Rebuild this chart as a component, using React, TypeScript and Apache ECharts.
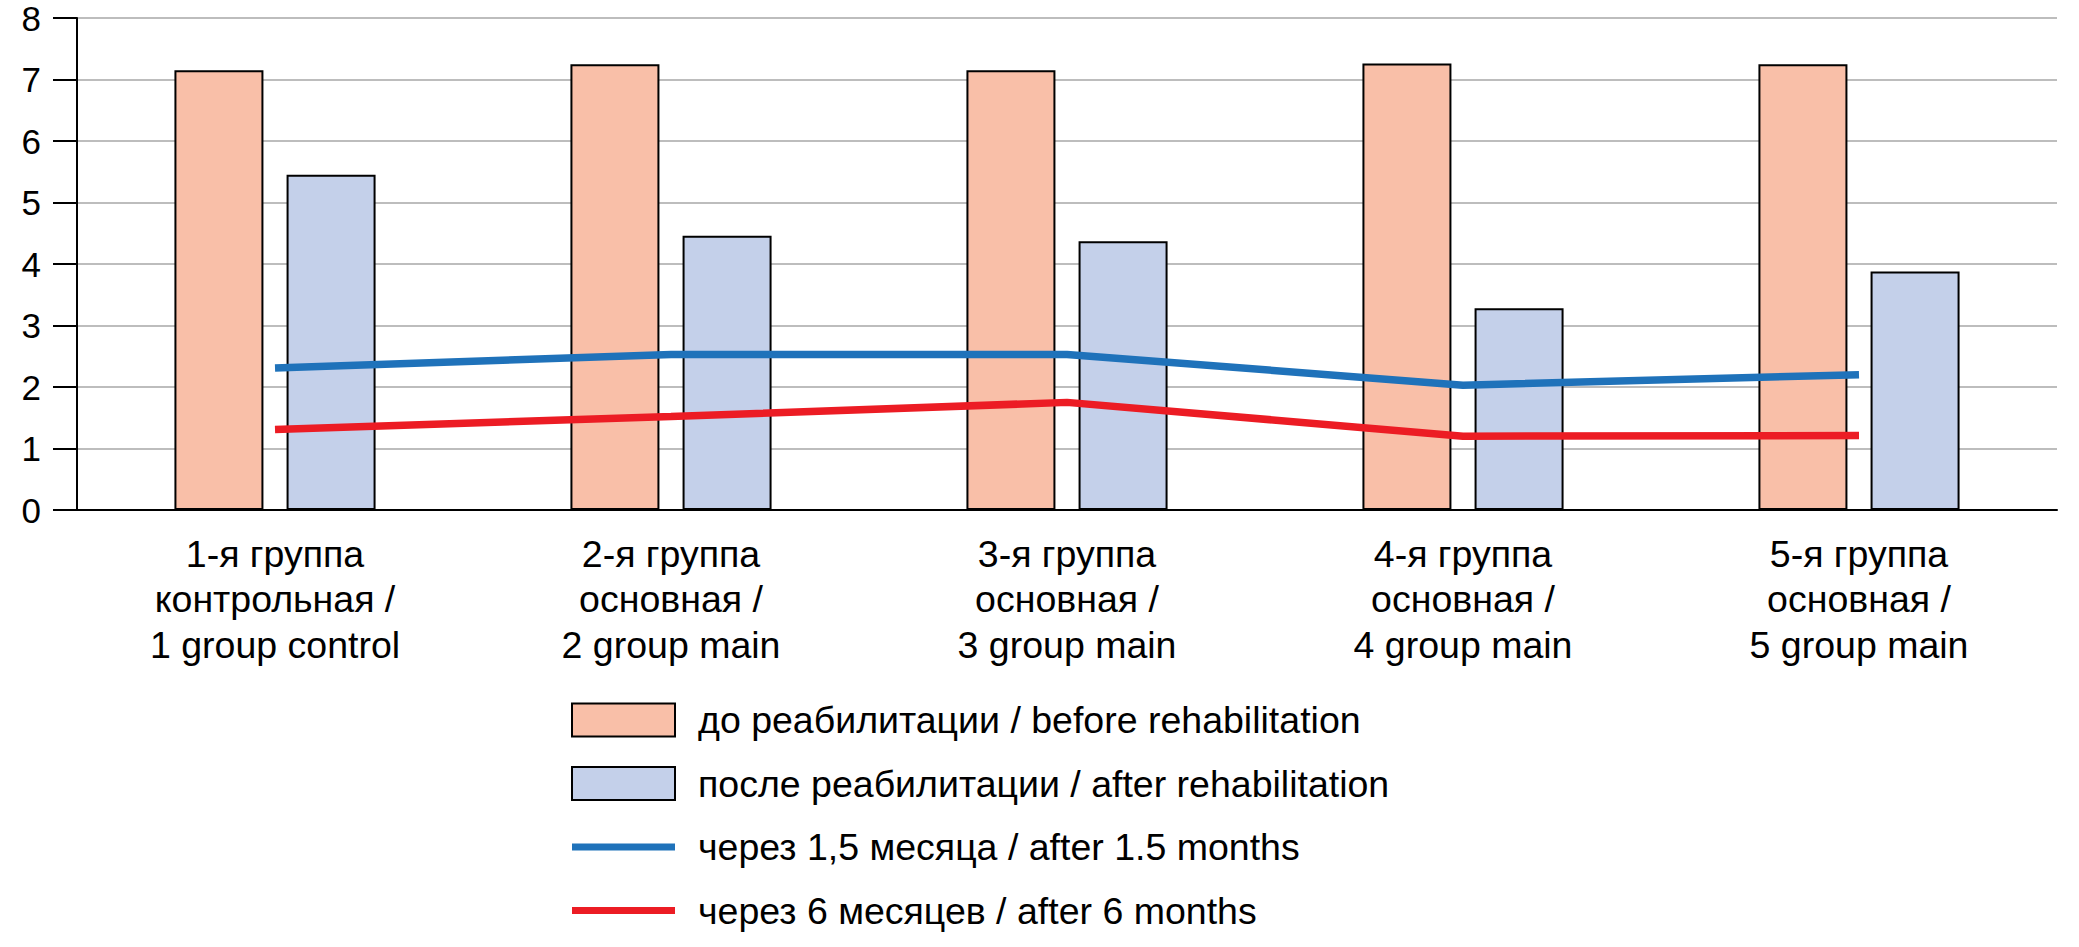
import React, { useEffect, useRef } from "react";
import * as echarts from "echarts";

const categories = [
  "1-я группа\nконтрольная /\n1 group control",
  "2-я группа\nосновная /\n2 group main",
  "3-я группа\nосновная /\n3 group main",
  "4-я группа\nосновная /\n4 group main",
  "5-я группа\nосновная /\n5 group main",
];
const beforeRehab = [7.15, 7.25, 7.15, 7.26, 7.25];
const afterRehab = [5.45, 4.46, 4.37, 3.28, 3.88];
const after15Months = [2.31, 2.53, 2.53, 2.03, 2.2];
const after6Months = [1.31, 1.52, 1.75, 1.2, 1.21];
const seriesNames = [
  "до реабилитации / before rehabilitation",
  "после реабилитации / after rehabilitation",
  "через 1,5 месяца / after 1.5 months",
  "через 6 месяцев / after 6 months",
];
const yTicks = [0, 1, 2, 3, 4, 5, 6, 7, 8];

const FONT = "'Liberation Sans', Arial, sans-serif";
const LINE_ICON = "path://M0,0L0.01,0L0,0ZM0,13L103,13L103,20L0,20ZM0,33L0.01,33L0,33Z";

export default function App() {
  const ref = useRef<HTMLDivElement>(null);
  useEffect(() => {
    if (!ref.current) return;
    const chart = echarts.init(ref.current, null, { renderer: "svg" });
    chart.setOption({
      animation: false,
      backgroundColor: "#ffffff",
      textStyle: { fontFamily: FONT, color: "#000" },
      grid: { left: 77, right: 22, top: 18, bottom: 437, containLabel: false },
      legend: {
        orient: "vertical",
        left: 566,
        top: 696,
        itemWidth: 103,
        itemHeight: 33,
        itemGap: 25.5,
        selectedMode: false,
        textStyle: { fontFamily: FONT, fontSize: 37.5, color: "#000", padding: [0, 0, 0, 18] },
        data: [
          { name: seriesNames[0], icon: "rect", itemStyle: { color: "#F9BFA8", borderColor: "#000", borderWidth: 2 } },
          { name: seriesNames[1], icon: "rect", itemStyle: { color: "#C4D0EA", borderColor: "#000", borderWidth: 2 } },
          { name: seriesNames[2], icon: LINE_ICON, itemStyle: { color: "#1F72BA", borderWidth: 0 } },
          { name: seriesNames[3], icon: LINE_ICON, itemStyle: { color: "#EC1C24", borderWidth: 0 } },
        ],
      },
      xAxis: {
        type: "category",
        data: categories,
        axisLine: { show: true, lineStyle: { color: "#000", width: 2 } },
        axisTick: { show: false },
        axisLabel: {
          fontFamily: FONT,
          fontSize: 37.5,
          lineHeight: 45.5,
          color: "#000",
          margin: 21,
          interval: 0,
        },
      },
      yAxis: {
        type: "value",
        min: yTicks[0],
        max: yTicks[yTicks.length - 1],
        interval: 1,
        axisLine: { show: true, lineStyle: { color: "#000", width: 2 } },
        axisTick: { show: true, length: 24, lineStyle: { color: "#000", width: 2 } },
        axisLabel: { fontFamily: FONT, fontSize: 35, color: "#000", margin: 36 },
        splitLine: { show: true, lineStyle: { color: "#BDBDBD", width: 2 } },
      },
      series: [
        {
          name: seriesNames[0],
          type: "bar",
          data: beforeRehab,
          barWidth: 89,
          barGap: "26%",
          itemStyle: { color: "#F9BFA8", borderColor: "#000", borderWidth: 2 },
        },
        {
          name: seriesNames[1],
          type: "bar",
          data: afterRehab,
          barWidth: 89,
          barGap: "26%",
          itemStyle: { color: "#C4D0EA", borderColor: "#000", borderWidth: 2 },
        },
        {
          name: seriesNames[2],
          type: "line",
          data: after15Months,
          symbol: "none",
          lineStyle: { color: "#1F72BA", width: 7.5 },
          itemStyle: { color: "#1F72BA" },
          z: 5,
        },
        {
          name: seriesNames[3],
          type: "line",
          data: after6Months,
          symbol: "none",
          lineStyle: { color: "#EC1C24", width: 7.5 },
          itemStyle: { color: "#EC1C24" },
          z: 5,
        },
      ],
    });
    return () => chart.dispose();
  }, []);
  return (
    <div
      ref={ref}
      style={{ position: "fixed", left: 0, top: 0, width: 2079, height: 947 }}
    />
  );
}
